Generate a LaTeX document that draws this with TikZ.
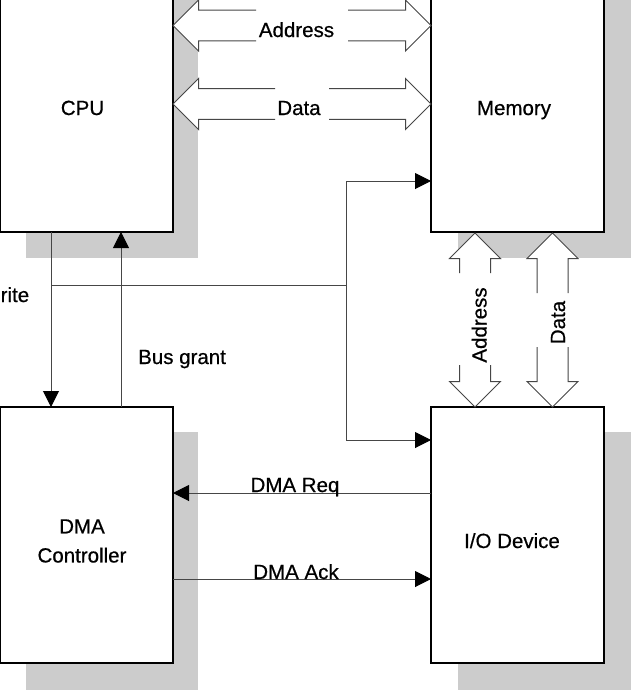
\documentclass[tikz,border=0pt]{standalone}
\usepackage{fontspec}
\setmainfont{Liberation Sans}
\newfontfamily\lblfont{Liberation Sans}[FakeBold=0.6]
\usetikzlibrary{arrows.meta}
\definecolor{shadowgray}{RGB}{204,204,204}
\definecolor{linegray}{RGB}{70,70,70}
\newcommand\hbusarrow[5]{% #1 yc, #2 left tip, #3 right tip, #4 gap start, #5 gap end
  \fill[white] (#2,#1) -- (#2+25.5,#1-25.5) -- (#2+25.5,#1-15.3) -- (#3-25.5,#1-15.3) -- (#3-25.5,#1-25.5) -- (#3,#1) -- (#3-25.5,#1+25.5) -- (#3-25.5,#1+15.3) -- (#2+25.5,#1+15.3) -- (#2+25.5,#1+25.5) -- cycle;
  \draw[blk] (#4,#1-15.3) -- (#2+25.5,#1-15.3) -- (#2+25.5,#1-25.5) -- (#2,#1) -- (#2+25.5,#1+25.5) -- (#2+25.5,#1+15.3) -- (#4,#1+15.3);
  \draw[blk] (#5,#1-15.3) -- (#3-25.5,#1-15.3) -- (#3-25.5,#1-25.5) -- (#3,#1) -- (#3-25.5,#1+25.5) -- (#3-25.5,#1+15.3) -- (#5,#1+15.3);
}
\newcommand\vbusarrow[5]{% #1 xc, #2 top tip, #3 bottom tip, #4 gap start, #5 gap end
  \fill[white] (#1,#2) -- (#1-25.5,#2+25.5) -- (#1-15.5,#2+25.5) -- (#1-15.5,#3-25.5) -- (#1-25.5,#3-25.5) -- (#1,#3) -- (#1+25.5,#3-25.5) -- (#1+15.5,#3-25.5) -- (#1+15.5,#2+25.5) -- (#1+25.5,#2+25.5) -- cycle;
  \draw[blk] (#1-15.5,#4) -- (#1-15.5,#2+25.5) -- (#1-25.5,#2+25.5) -- (#1,#2) -- (#1+25.5,#2+25.5) -- (#1+15.5,#2+25.5) -- (#1+15.5,#4);
  \draw[blk] (#1-15.5,#5) -- (#1-15.5,#3-25.5) -- (#1-25.5,#3-25.5) -- (#1,#3) -- (#1+25.5,#3-25.5) -- (#1+15.5,#3-25.5) -- (#1+15.5,#5);
}
\begin{document}
\begin{tikzpicture}[x=1pt,y=-1pt,
  box/.style={draw=black, line width=2pt, fill=white, inner sep=0pt, outer sep=0pt},
  conn/.style={draw=linegray, line width=1pt},
  tip/.style={-{Triangle[length=16pt,width=16pt,color=black]}},
  blk/.style={draw=linegray, line width=1pt, line join=miter},
  lbl/.style={font=\lblfont\fontsize{20.5}{29}\selectfont, inner sep=0pt, anchor=base},
]
\useasboundingbox (0,0) rectangle (630,691);
% shadows
\fill[shadowgray] (26,-20) rectangle (198,258);
\fill[shadowgray] (458,-20) rectangle (640,258);
\fill[shadowgray] (26,432) rectangle (198,690);
\fill[shadowgray] (458,432) rectangle (640,690);
% boxes
\node[box, minimum width=173pt, minimum height=262pt, anchor=south west] (cpu) at (0,232) {};
\node[box, minimum width=173pt, minimum height=262pt, anchor=south west] (mem) at (431,232) {};
\node[box, minimum width=173pt, minimum height=256pt, anchor=north west] (dma) at (0,407) {};
\node[box, minimum width=173pt, minimum height=256pt, anchor=north west] (io) at (431,407) {};
% box labels
\node[lbl] (cpul) at (82.5,115) {CPU};
\node[lbl] (meml) at (514,115) {Memory};
\node[lbl, anchor=center, align=center] (dmal) at (82,541) {DMA\\Controller};
\node[lbl] (iol) at (512,548) {I/O Device};
% bus arrows
\hbusarrow{25.5}{173}{431}{256}{348}
\hbusarrow{104}{173}{431}{275}{329}
\vbusarrow{475}{233}{407}{273}{365}
\vbusarrow{552.5}{233}{407}{293}{347}
\node[lbl] (addrh) at (296.5,37) {Address};
\node[lbl] (datah) at (299,115) {Data};
\node[lbl, rotate=90] (addrv) at (486.5,325) {Address};
\node[lbl, rotate=90] (datav) at (565,322.5) {Data};
% helper coordinates
\coordinate (rwx) at (51,0);
\coordinate (bgx) at (121,0);
\coordinate (jx) at (346,0);
\coordinate (ya) at (0,181);
\coordinate (yb) at (0,440);
\coordinate (yc) at (0,285);
\coordinate (yreq) at (0,493);
\coordinate (yack) at (0,579);
% connectors
\draw[conn,tip] (cpu.south -| rwx) -- (dma.north -| rwx);
\draw[conn,tip] (dma.north -| bgx) -- (cpu.south -| bgx);
\draw[conn] (rwx |- yc) -- (jx |- yc);
\draw[conn,tip] (jx |- yc) -- (jx |- ya) -- (mem.west |- ya);
\draw[conn,tip] (jx |- yc) -- (jx |- yb) -- (io.west |- yb);
\draw[conn,tip] (io.west |- yreq) -- (dma.east |- yreq);
\draw[conn,tip] (dma.east |- yack) -- (io.west |- yack);
% connector labels
\node[lbl, anchor=base west] (rwl) at (0.5,302) {rite};
\node[lbl, anchor=base west] (bgl) at (138,364) {Bus grant};
\node[lbl] (reql) at (295,492) {DMA Req};
\node[lbl] (ackl) at (296,579) {DMA Ack};
\end{tikzpicture}
\end{document}
